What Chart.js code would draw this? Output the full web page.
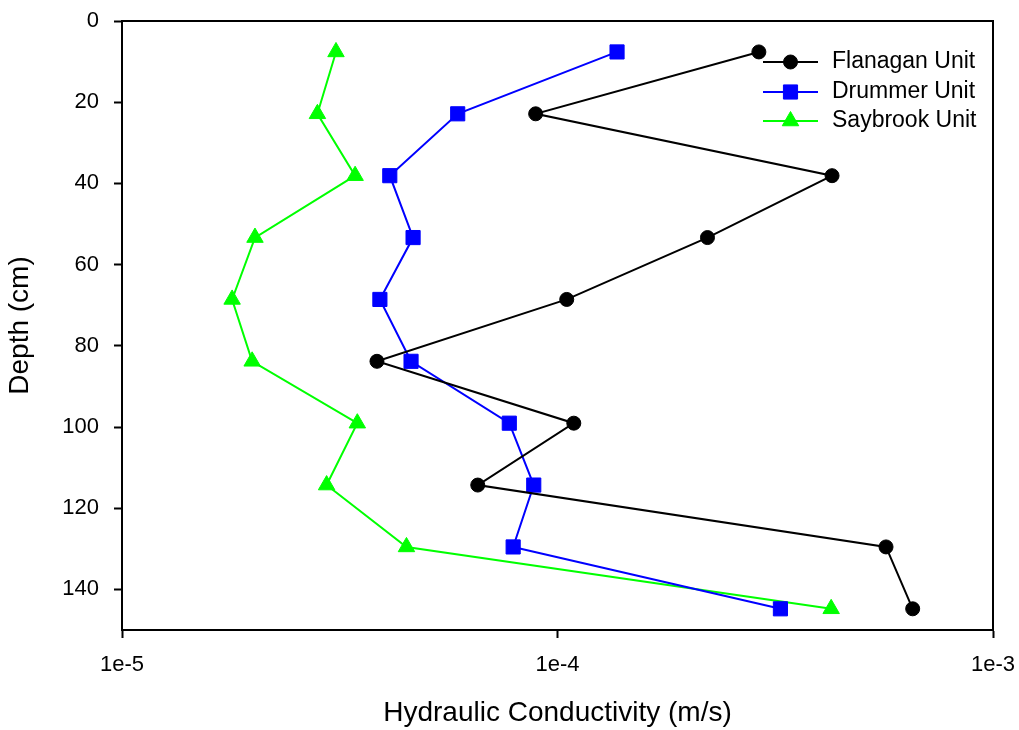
<!DOCTYPE html>
<html>
<head>
<meta charset="utf-8">
<script src="https://cdn.jsdelivr.net/npm/chart.js@4/dist/chart.umd.min.js"></script>
<style>
  html, body { margin: 0; padding: 0; background: #ffffff; }
  #wrap { width: 1019px; height: 730px; }
</style>
</head>
<body>
<div id="wrap"><canvas id="chart" width="1019" height="730"></canvas></div>
<script>
// Sampling depths (cm), 6-inch intervals starting at 3 inches
const depths = [7.62, 22.86, 38.1, 53.34, 68.58, 83.82, 99.06, 114.3, 129.54, 144.78];

// Hydraulic conductivity (m/s) per soil unit
const flanagan = [2.90e-4, 8.91e-5, 4.27e-4, 2.21e-4, 1.05e-4, 3.85e-5, 1.09e-4, 6.56e-5, 5.68e-4, 6.54e-4];
const drummer  = [1.37e-4, 5.90e-5, 4.12e-5, 4.66e-5, 3.91e-5, 4.61e-5, 7.75e-5, 8.82e-5, 7.91e-5, 3.25e-4];
const saybrook = [3.10e-5, 2.81e-5, 3.43e-5, 2.02e-5, 1.79e-5, 1.99e-5, 3.47e-5, 2.95e-5, 4.50e-5, 4.25e-4];

const seriesNames = ['Flanagan Unit', 'Drummer Unit', 'Saybrook Unit'];

// Axis ticks
const xTicks = [1e-5, 1e-4, 1e-3];
const xTickLabels = ['1e-5', '1e-4', '1e-3'];
const yTicks = [0, 20, 40, 60, 80, 100, 120, 140];

const FONT = "'Liberation Sans', Arial, sans-serif";

function toPoints(values) {
  return values.map((k, i) => ({ x: k, y: depths[i] }));
}

function makeSeries(label, values, color, style, radius) {
  return {
    label: label,
    data: toPoints(values),
    showLine: true,
    borderColor: color,
    backgroundColor: color,
    borderWidth: 2,
    pointStyle: style,
    pointRadius: radius,
    pointHoverRadius: radius,
    pointBorderWidth: 1,
    pointBorderColor: color,
    pointBackgroundColor: color,
    tension: 0
  };
}

// Frame lines along the top and right of the plot area
const framePlugin = {
  id: 'frame',
  afterDraw(chart) {
    const { ctx, chartArea: a } = chart;
    ctx.save();
    ctx.strokeStyle = '#000';
    ctx.lineWidth = 2;
    ctx.beginPath();
    ctx.moveTo(a.left, a.top);
    ctx.lineTo(a.right, a.top);
    ctx.lineTo(a.right, a.bottom);
    ctx.stroke();
    ctx.restore();
  }
};

// Legend inside the plot: line sample with marker, then the label
const insideLegend = {
  id: 'insideLegend',
  afterDraw(chart) {
    const { ctx, chartArea: a } = chart;
    const x0 = a.right - 230, x1 = a.right - 175, xm = (x0 + x1) / 2;
    const xt = a.right - 161;
    const rowY = [a.top + 41, a.top + 71, a.top + 100];
    ctx.save();
    chart.data.datasets.forEach((ds, i) => {
      const y = rowY[i];
      ctx.strokeStyle = ds.borderColor;
      ctx.lineWidth = ds.borderWidth;
      ctx.beginPath();
      ctx.moveTo(x0, y);
      ctx.lineTo(x1, y);
      ctx.stroke();
      ctx.fillStyle = ds.pointBackgroundColor;
      ctx.strokeStyle = ds.pointBorderColor;
      ctx.lineWidth = ds.pointBorderWidth;
      Chart.helpers.drawPoint(ctx, {
        pointStyle: ds.pointStyle,
        radius: ds.pointRadius,
        borderWidth: ds.pointBorderWidth,
        rotation: 0
      }, xm, y);
      ctx.fillStyle = '#000';
      ctx.font = '23px ' + FONT;
      ctx.textAlign = 'left';
      ctx.textBaseline = 'middle';
      ctx.fillText(ds.label, xt, y);
    });
    ctx.restore();
  }
};

new Chart(document.getElementById('chart'), {
  type: 'scatter',
  data: {
    datasets: [
      makeSeries(seriesNames[0], flanagan, '#000000', 'circle', 7),
      makeSeries(seriesNames[1], drummer, '#0000ff', 'rect', 10),
      makeSeries(seriesNames[2], saybrook, '#00ff00', 'triangle', 9.5)
    ]
  },
  options: {
    responsive: false,
    animation: false,
    layout: { padding: { top: 21, right: 26, left: 0, bottom: 0 } },
    plugins: {
      legend: { display: false },
      tooltip: { enabled: false }
    },
    scales: {
      x: {
        type: 'logarithmic',
        min: 1e-5,
        max: 1e-3,
        afterBuildTicks(scale) { scale.ticks = xTicks.map(v => ({ value: v, major: true })); },
        afterFit(scale) {
          scale.height = 100;
          scale.paddingLeft = 0;
          scale.paddingRight = 0;
        },
        grid: { drawOnChartArea: false, drawTicks: true, tickLength: 8, tickColor: '#000', tickWidth: 2 },
        border: { display: true, color: '#000', width: 2 },
        ticks: {
          autoSkip: false,
          maxRotation: 0,
          padding: 14,
          color: '#000',
          font: { family: FONT, size: 22 },
          callback: (value, index) => xTickLabels[index]
        },
        title: {
          display: true,
          text: 'Hydraulic Conductivity (m/s)',
          color: '#000',
          font: { family: FONT, size: 28 },
          padding: { top: 0, bottom: 0 }
        }
      },
      y: {
        type: 'linear',
        reverse: true,
        min: 0,
        max: 150,
        afterBuildTicks(scale) { scale.ticks = yTicks.map(v => ({ value: v })); },
        afterFit(scale) {
          scale.width = 122;
          scale.paddingTop = 0;
          scale.paddingBottom = 0;
        },
        grid: { drawOnChartArea: false, drawTicks: true, tickLength: 8, tickColor: '#000', tickWidth: 2 },
        border: { display: true, color: '#000', width: 2 },
        ticks: {
          padding: 15,
          color: '#000',
          font: { family: FONT, size: 22 }
        },
        title: {
          display: true,
          text: 'Depth (cm)',
          color: '#000',
          font: { family: FONT, size: 28 },
          padding: { top: 3, bottom: 0 }
        }
      }
    }
  },
  plugins: [framePlugin, insideLegend]
});
</script>
</body>
</html>
